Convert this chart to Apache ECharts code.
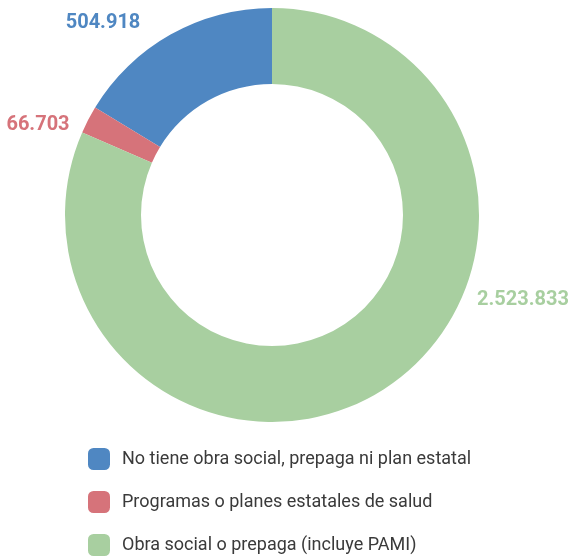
<!DOCTYPE html>
<html>
<head>
<meta charset="utf-8">
<script src="https://cdn.jsdelivr.net/npm/echarts@6/dist/echarts.min.js"></script>
<style>
html,body{margin:0;padding:0;background:#fff;}
#chart{width:571px;height:559px;}
</style>
</head>
<body>
<div id="chart"></div>
<script>
const categories = [
  'No tiene obra social, prepaga ni plan estatal',
  'Programas o planes estatales de salud',
  'Obra social o prepaga (incluye PAMI)'
];
const values = [504918, 66703, 2523833];
const colors = ['#4f87c2', '#d6737a', '#a8cfa0'];
const valueLabels = ['504.918', '66.703', '2.523.833'];

const labelSpots = [
  {x: 103, y: 23, align: 'center'},
  {x: 38, y: 125, align: 'center'},
  {x: 569, y: 300, align: 'right'}
];

const chart = echarts.init(document.getElementById('chart'));
chart.setOption({
  animation: false,
  legend: {
    orient: 'vertical',
    left: 88,
    top: 448,
    height: 120,
    padding: 0,
    itemWidth: 22,
    itemHeight: 22,
    itemGap: 21,
    icon: 'roundRect',
    data: categories,
    textStyle: {
      fontFamily: 'Roboto, sans-serif',
      fontSize: 18,
      color: '#3a3a3a',
      padding: [0, 0, 0, 7]
    }
  },
  series: [{
    type: 'pie',
    center: [272, 215],
    radius: [131, 207],
    startAngle: 90,
    clockwise: false,
    silent: true,
    label: {
      show: true,
      position: 'outside',
      overflow: 'none',
      formatter: p => valueLabels[p.dataIndex],
      fontFamily: 'Roboto, sans-serif',
      fontWeight: 'bold',
      fontSize: 20
    },
    labelLine: {show: false},
    labelLayout: p => ({
      x: labelSpots[p.dataIndex].x,
      y: labelSpots[p.dataIndex].y,
      align: labelSpots[p.dataIndex].align,
      verticalAlign: 'middle',
      hideOverlap: false
    }),
    data: categories.map((c, i) => ({
      name: c,
      value: values[i],
      itemStyle: {color: colors[i]},
      label: {color: colors[i]}
    }))
  }]
});
</script>
</body>
</html>
